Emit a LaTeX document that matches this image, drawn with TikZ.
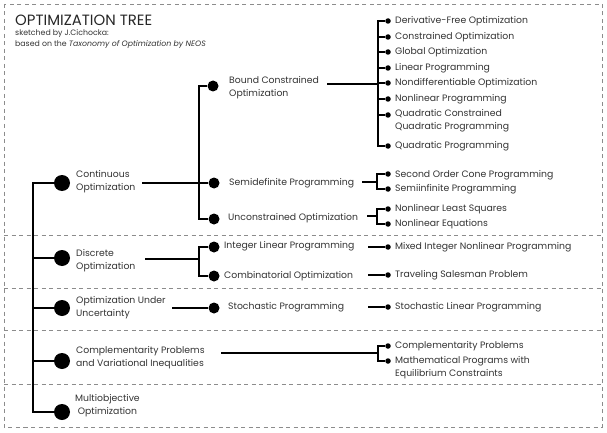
\documentclass[tikz,border=0pt]{standalone}
\usepackage{fontspec}
\setmainfont{Poppins}
\begin{document}
\begin{tikzpicture}[x=1pt,y=-1pt,
  frame/.style={draw=black!45, line width=0.7pt, dash pattern=on 4pt off 3.5pt},
  conn/.style={draw=black, line width=1.5pt},
  bigdot/.style={circle, fill=black, inner sep=0pt, minimum size=16pt},
  middot/.style={circle, fill=black, inner sep=0pt, minimum size=11pt},
  leafdot/.style={circle, fill=black, inner sep=0pt, minimum size=5.5pt},
  lab/.style={anchor=west, inner sep=0pt, text=black!80, align=left, font=\fontsize{9.3}{13}\selectfont},
]
\useasboundingbox (0,0) rectangle (607,433);
% frame
\draw[frame] (4,4) rectangle (602,427);
\foreach \yy in {235,288,330,384} \draw[frame] (4,\yy) -- (602,\yy);
% title
\node[anchor=base west, inner sep=0pt, text=black!85, font=\fontsize{14.9}{15}\selectfont] (title) at (15,26) {OPTIMIZATION TREE};
\node[anchor=west, inner sep=0pt, text=black!80, font=\fontsize{7.8}{9}\selectfont] (sub1) at (15,34) {sketched by J.Cichocka:};
\node[anchor=west, inner sep=0pt, text=black!80, font=\fontsize{7.8}{9}\selectfont] (sub2) at (15,45) {based on the \textit{Taxonomy of Optimization by NEOS}};
% level 1
\node[bigdot] (c) at (62,183) {};
\node[bigdot] (d) at (62,258) {};
\node[bigdot] (u) at (62,308) {};
\node[bigdot] (cp) at (62,361) {};
\node[bigdot] (mo) at (62,412) {};
\node[lab] (ct) at (76,182) {Continuous\\Optimization};
\node[lab] (dt) at (76,261) {Discrete\\Optimization};
\node[lab] (ut) at (76,308) {Optimization Under\\Uncertainty};
\node[lab] (cpt) at (76,358) {Complementarity Problems\\and Variational Inequalities};
\node[lab, align=center] (mot) at (75,406) {Multiobjective\\Optimization};
\coordinate (tt) at (33,183);
\coordinate (tb) at (33,412);
\draw[conn] (c) -- (tt) -- (tb) -- (mo);
\draw[conn] (d) -- (d -| tt);
\draw[conn] (u) -- (u -| tt);
\draw[conn] (cp) -- (cp -| tt);
% continuous level 2
\node[middot] (bc) at (213,86) {};
\node[middot] (sd) at (214,183) {};
\node[middot] (uc) at (214,219) {};
\node[lab] (bct) at (229,88) {Bound Constrained\\Optimization};
\node[lab] (sdt) at (229,183) {Semidefinite Programming};
\node[lab] (uct) at (228,218) {Unconstrained Optimization};
\coordinate (cj) at (199,183);
\coordinate (cs) at (142,183);
\draw[conn] (bc) -| (cj) |- (uc);
\draw[conn] (cs) -- (sd);
% discrete level 2
\node[middot] (il) at (214,247) {};
\node[middot] (co) at (214,276) {};
\node[lab] (ilt) at (224,246) {Integer Linear Programming};
\node[lab] (cot) at (224,276) {Combinatorial Optimization};
\coordinate (dj) at (199,259);
\coordinate (ds) at (145,259);
\draw[conn] (il) -| (dj) |- (co);
\draw[conn] (ds) -- (dj);
% uncertainty level 2
\node[middot] (sp) at (214,308) {};
\node[lab] (spt) at (228,307) {Stochastic Programming};
\coordinate (us) at (172,308);
\draw[conn] (us) -- (sp);
% bound constrained leaves
\node[leafdot] (b1) at (388,21) {};
\node[leafdot] (b2) at (388,37) {};
\node[leafdot] (b3) at (388,52) {};
\node[leafdot] (b4) at (388,68) {};
\node[leafdot] (b5) at (388,83) {};
\node[leafdot] (b6) at (388,99) {};
\node[leafdot] (b7) at (388,115) {};
\node[leafdot] (b8) at (388,146) {};
\node[lab] (b1t) at (395,21) {Derivative-Free Optimization};
\node[lab] (b2t) at (395,37) {Constrained Optimization};
\node[lab] (b3t) at (395,52) {Global Optimization};
\node[lab] (b4t) at (395,68) {Linear Programming};
\node[lab] (b5t) at (395,83) {Nondifferentiable Optimization};
\node[lab] (b6t) at (395,99) {Nonlinear Programming};
\node[lab] (b7t) at (395,120.5) {Quadratic Constrained\\Quadratic Programming};
\node[lab] (b8t) at (395,146) {Quadratic Programming};
\coordinate (bs) at (327,84);
\coordinate (bj) at (378,84);
\draw[conn] (bs) -- (bj);
\draw[conn] (b1) -| (bj) |- (b8);
\foreach \n in {b2,b3,b4,b5,b6,b7} \draw[conn] (\n) -- (\n -| bj);
% semidefinite leaves
\node[leafdot] (s1) at (388,174) {};
\node[leafdot] (s2) at (388,189) {};
\node[lab] (s1t) at (395,175) {Second Order Cone Programming};
\node[lab] (s2t) at (395,189) {Semiinfinite Programming};
\coordinate (ss) at (362,182);
\coordinate (sj) at (377,182);
\draw[conn] (ss) -- (sj);
\draw[conn] (s1) -| (sj) |- (s2);
% unconstrained leaves
\node[leafdot] (n1) at (388,209) {};
\node[leafdot] (n2) at (388,224) {};
\node[lab] (n1t) at (395,209) {Nonlinear Least Squares};
\node[lab] (n2t) at (395,224) {Nonlinear Equations};
\coordinate (ns) at (367,216);
\coordinate (nj) at (377,216);
\draw[conn] (ns) -- (nj);
\draw[conn] (n1) -| (nj) |- (n2);
% discrete leaves
\node[leafdot] (m1) at (388,247) {};
\node[leafdot] (t1) at (388,275) {};
\node[lab] (m1t) at (395,247) {Mixed Integer Nonlinear Programming};
\node[lab] (t1t) at (395,275) {Traveling Salesman Problem};
\coordinate (ms) at (368,247);
\coordinate (ts) at (368,275);
\draw[conn] (ms) -- (m1);
\draw[conn] (ts) -- (t1);
% stochastic leaf
\node[leafdot] (sl) at (388,307) {};
\node[lab] (slt) at (395,307) {Stochastic Linear Programming};
\coordinate (sls) at (368,307);
\draw[conn] (sls) -- (sl);
% complementarity leaves
\node[leafdot] (cp1) at (388,346) {};
\node[leafdot] (cp2) at (388,361) {};
\node[lab] (cp1t) at (395,346) {Complementarity Problems};
\node[lab] (cp2t) at (395,368) {Mathematical Programs with\\Equilibrium Constraints};
\coordinate (cps) at (221,353);
\coordinate (cpj) at (378,353);
\draw[conn] (cps) -- (cpj);
\draw[conn] (cp1) -| (cpj) |- (cp2);
\end{tikzpicture}
\end{document}
